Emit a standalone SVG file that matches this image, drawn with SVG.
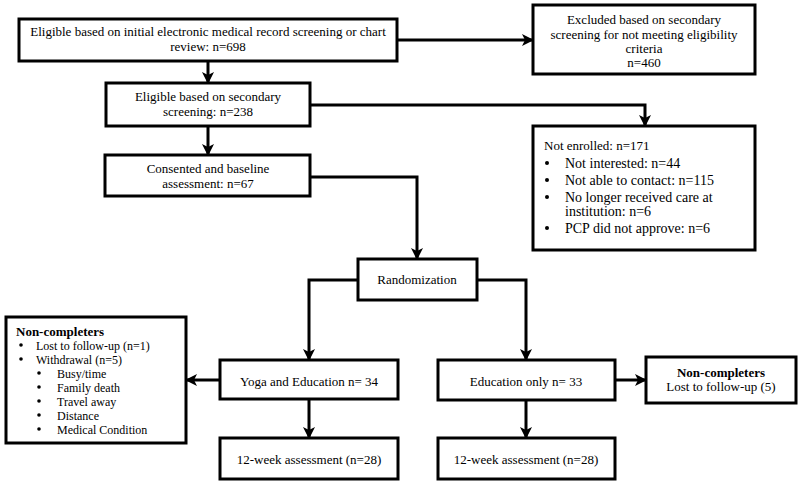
<svg xmlns="http://www.w3.org/2000/svg" width="800" height="485" viewBox="0 0 800 485">
<defs>
<style>
.box{fill:#fff;stroke:#000;stroke-width:3}
.ln{fill:none;stroke:#000;stroke-width:3}
text{font-family:'Liberation Serif',Tinos,'Times New Roman','Nimbus Roman','DejaVu Serif',serif;font-size:13px;fill:#000}
.c{text-anchor:middle}
.b14{font-size:14px}
.bold{font-weight:bold}
.s12{font-size:12px}
</style>
<marker id="ah" markerUnits="userSpaceOnUse" markerWidth="12" markerHeight="12" viewBox="0 0 12 12" refX="10" refY="6" orient="auto">
<path d="M0,0 L12,6 L0,12 L3,6 z" fill="#000"/>
</marker>
</defs>
<rect width="800" height="485" fill="#fff"/>
<g id="connectors">
<line class="ln" x1="208" y1="61" x2="208" y2="82" marker-end="url(#ah)"/>
<line class="ln" x1="397" y1="40" x2="532" y2="40" marker-end="url(#ah)"/>
<line class="ln" x1="208" y1="126" x2="208" y2="154" marker-end="url(#ah)"/>
<polyline class="ln" points="310,105 645,105 645,125" marker-end="url(#ah)"/>
<polyline class="ln" points="310,177 417,177 417,258" marker-end="url(#ah)"/>
<polyline class="ln" points="358,280 309,280 309,359" marker-end="url(#ah)"/>
<polyline class="ln" points="477,280 526,280 526,359" marker-end="url(#ah)"/>
<line class="ln" x1="220" y1="380" x2="187" y2="380" marker-end="url(#ah)"/>
<line class="ln" x1="615" y1="380" x2="645" y2="380" marker-end="url(#ah)"/>
<line class="ln" x1="309" y1="399" x2="309" y2="437" marker-end="url(#ah)"/>
<line class="ln" x1="526" y1="400" x2="526" y2="437" marker-end="url(#ah)"/>
</g>
<g id="n1">
<rect class="box" x="19" y="19" width="378" height="42"/>
<text class="c" x="208" y="36">Eligible based on initial electronic medical record screening or chart</text>
<text class="c" x="208" y="51">review: n=698</text>
</g>
<g id="n-excluded">
<rect class="box" x="533" y="5" width="222" height="69"/>
<text class="c" x="644" y="24">Excluded based on secondary</text>
<text class="c" x="644" y="39">screening for not meeting eligibility</text>
<text class="c" x="644" y="53">criteria</text>
<text class="c" x="644" y="67">n=460</text>
</g>
<g id="n2">
<rect class="box" x="106" y="83" width="204" height="43"/>
<text class="c" x="208" y="101">Eligible based on secondary</text>
<text class="c" x="208" y="116">screening: n=238</text>
</g>
<g id="n-notenrolled">
<rect class="box" x="533" y="126" width="222" height="124"/>
<text x="544" y="150">Not enrolled: n=171</text>
<circle cx="547" cy="163" r="2"/><text class="b14" x="565" y="168">Not interested: n=44</text>
<circle cx="547" cy="180" r="2"/><text class="b14" x="565" y="185">Not able to contact: n=115</text>
<circle cx="547" cy="197" r="2"/><text class="b14" x="565" y="202">No longer received care at</text>
<text class="b14" x="565" y="216">institution: n=6</text>
<circle cx="547" cy="228" r="2"/><text class="b14" x="565" y="233">PCP did not approve: n=6</text>
</g>
<g id="n3">
<rect class="box" x="105" y="155" width="205" height="41"/>
<text class="c" x="208" y="173">Consented and baseline</text>
<text class="c" x="208" y="188">assessment: n=67</text>
</g>
<g id="n-random">
<rect class="box" x="358" y="259" width="119" height="41"/>
<text class="c" x="417" y="284">Randomization</text>
</g>
<g id="n-noncomp-left">
<rect class="box" x="6" y="317" width="180" height="126"/>
<text class="bold" x="16" y="336">Non-completers</text>
<circle cx="21" cy="345" r="1.8"/><text class="s12" x="36" y="350">Lost to follow-up (n=1)</text>
<circle cx="21" cy="359" r="1.8"/><text class="s12" x="36" y="364">Withdrawal (n=5)</text>
<circle cx="39" cy="373" r="1.8"/><text class="s12" x="57" y="378">Busy/time</text>
<circle cx="39" cy="387" r="1.8"/><text class="s12" x="57" y="392">Family death</text>
<circle cx="39" cy="401" r="1.8"/><text class="s12" x="57" y="406">Travel away</text>
<circle cx="39" cy="415" r="1.8"/><text class="s12" x="57" y="420">Distance</text>
<circle cx="39" cy="429" r="1.8"/><text class="s12" x="57" y="434">Medical Condition</text>
</g>
<g id="n-yoga">
<rect class="box" x="220" y="360" width="178" height="39"/>
<text class="c" x="309" y="386">Yoga and Education n= 34</text>
</g>
<g id="n-edu">
<rect class="box" x="438" y="360" width="177" height="40"/>
<text class="c" x="526" y="386">Education only n= 33</text>
</g>
<g id="n-noncomp-right">
<rect class="box" x="646" y="357" width="150" height="46"/>
<text class="c bold" x="721" y="377">Non-completers</text>
<text class="c" x="721" y="391">Lost to follow-up (5)</text>
</g>
<g id="n-12w-left">
<rect class="box" x="220" y="438" width="178" height="41"/>
<text class="c" x="309" y="464">12-week assessment (n=28)</text>
</g>
<g id="n-12w-right">
<rect class="box" x="438" y="438" width="177" height="41"/>
<text class="c" x="526" y="464">12-week assessment (n=28)</text>
</g>
</svg>
